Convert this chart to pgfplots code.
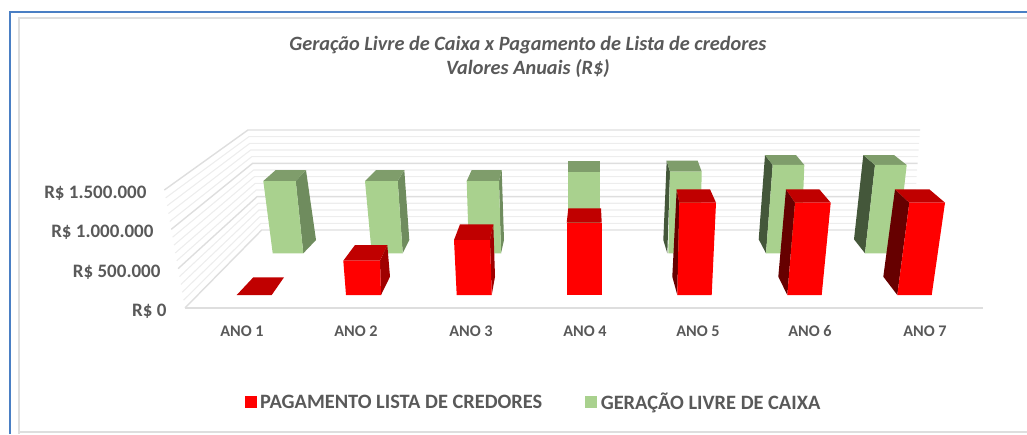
\documentclass[border=0pt]{standalone}
\usepackage{fontspec}
\setmainfont{Carlito}
\usepackage{pgfplots}
\pgfplotsset{compat=1.18}
\definecolor{tg}{HTML}{595959}
\definecolor{gf}{HTML}{A9D18E}
\definecolor{gt}{HTML}{7F9D6B}
\definecolor{gs}{HTML}{6F8C5E}
\definecolor{gd}{HTML}{44573A}
\definecolor{rt}{HTML}{C00000}
\definecolor{rs}{HTML}{A00000}
\definecolor{rd}{HTML}{660000}
\definecolor{gmaj}{HTML}{DEDEDE}
\definecolor{gmin}{HTML}{EDEDED}
\definecolor{fblue}{HTML}{4A7FC4}
\pgfplotsset{
 poly/.style={fill=#1,draw=none,forget plot},
 gmaj/.style={draw=gmaj,line width=1.4pt,forget plot},
 gmin/.style={draw=gmin,line width=1.1pt,forget plot},
}
\begin{document}
\begin{tikzpicture}
\begin{axis}[
 scale only axis,width=1027pt,height=434pt,
 xmin=0,xmax=1027,ymin=-1582250,ymax=3911322,
 no markers,
 axis line style={draw=none},tick style={draw=none},
 scaled y ticks=false,
 xtick pos=bottom,ytick pos=left,
 xtick={242,356,471,585,698,810,925},
 xticklabels={ANO 1,ANO 2,ANO 3,ANO 4,ANO 5,ANO 6,ANO 7},
 ytick={0,500000,1000000,1500000},
 yticklabels={R\$ 0,R\$ 500.000\hspace*{6pt},R\$ 1.000.000\hspace*{13pt},R\$ 1.500.000\hspace*{20pt}},
 xticklabel style={yshift=112pt,font=\bfseries\fontsize{16.2}{18}\selectfont,text=tg},
 yticklabel style={xshift=170pt,yshift=-2.5pt,font=\bfseries\fontsize{19}{21}\selectfont,text=tg},
 title={Geração Livre de Caixa x Pagamento de Lista de credores\\Valores Anuais (R\$)},
 title style={at={(0.514,0.854)},anchor=center,align=center,text=tg,
   font=\bfseries\itshape\fontsize{20.3}{24}\selectfont},
 legend columns=2,
 legend style={at={(0.5195,0.073)},anchor=center,draw=none,fill=none,text=tg,
   font=\bfseries\fontsize{20.4}{22}\selectfont,
   /tikz/every even column/.append style={column sep=41pt}},
]
% frame
\addplot[draw=fblue,line width=2pt,forget plot] coordinates {(10,-1582250)(10,3759000)(1027,3759000)};
\addplot[draw=gmaj,line width=2pt,forget plot] coordinates {(19,-1582250)(19,3683000)(1027,3683000)};
\addplot[draw=gmaj,line width=2pt,forget plot] coordinates {(19,-1557000)(1027,-1557000)};
% walls
\addplot[gmaj] coordinates {(185,13000)(261.7,1000000)(913,1000000)};
\addplot[gmin] coordinates {(183.6,112000)(260.8,1084000)(913.5,1084000)};
\addplot[gmin] coordinates {(182.2,212000)(259.9,1169000)(913.9,1169000)};
\addplot[gmin] coordinates {(180.9,311000)(259,1253000)(914.4,1253000)};
\addplot[gmin] coordinates {(179.5,411000)(258,1338000)(914.9,1338000)};
\addplot[gmaj] coordinates {(178.1,511000)(257.1,1422000)(915.3,1422000)};
\addplot[gmin] coordinates {(176.7,610000)(256.2,1506000)(915.8,1506000)};
\addplot[gmin] coordinates {(175.3,710000)(255.3,1591000)(916.3,1591000)};
\addplot[gmin] coordinates {(174,809000)(254.4,1675000)(916.7,1675000)};
\addplot[gmin] coordinates {(172.6,909000)(253.5,1759000)(917.2,1759000)};
\addplot[gmaj] coordinates {(171.2,1008000)(252.6,1844000)(917.7,1844000)};
\addplot[gmin] coordinates {(169.8,1108000)(251.7,1928000)(918.1,1928000)};
\addplot[gmin] coordinates {(168.4,1208000)(250.7,2013000)(918.6,2013000)};
\addplot[gmin] coordinates {(167.1,1307000)(249.8,2097000)(919.1,2097000)};
\addplot[gmin] coordinates {(165.7,1407000)(248.9,2181000)(919.5,2181000)};
\addplot[gmaj] coordinates {(164.3,1506000)(248,2266000)(920,2266000)};
\addplot[gmaj] coordinates {(185,13000)(983,13000)};
% green ANO 1
\addplot[poly=gs] coordinates {(295.7,1620000)(306,1759000)(316,873000)(303.3,705000)};
\addplot[poly=gt] coordinates {(263.3,1620000)(295.7,1620000)(306,1759000)(275.7,1759000)};
\addplot[poly=gf] coordinates {(263.3,1620000)(295.7,1620000)(303.3,705000)(272.7,705000)};
% green ANO 2
\addplot[poly=gs] coordinates {(397.7,1620000)(404.3,1759000)(409.3,873000)(402.7,705000)};
\addplot[poly=gt] coordinates {(365,1620000)(397.7,1620000)(404.3,1759000)(376,1759000)};
\addplot[poly=gf] coordinates {(365,1620000)(397.7,1620000)(402.7,705000)(371.7,705000)};
% green ANO 3
\addplot[poly=gs] coordinates {(499,1620000)(501.7,1759000)(504,873000)(501,705000)};
\addplot[poly=gt] coordinates {(466.7,1620000)(499,1620000)(501.7,1759000)(471.7,1759000)};
\addplot[poly=gf] coordinates {(466.7,1620000)(499,1620000)(501,705000)(469,705000)};
% green ANO 4
\addplot[poly=gt] coordinates {(568.3,1738000)(600,1738000)(600,1877000)(568.3,1877000)};
\addplot[poly=gf] coordinates {(568.3,1738000)(600,1738000)(600,705000)(568.3,705000)};
% green ANO 5
\addplot[poly=gd] coordinates {(670,1738000)(666.7,1877000)(663.3,873000)(667.3,705000)};
\addplot[poly=gt] coordinates {(670,1738000)(701.7,1738000)(697.7,1877000)(666.7,1877000)};
\addplot[poly=gf] coordinates {(670,1738000)(701.7,1738000)(700,705000)(668.3,705000)};
% green ANO 6
\addplot[poly=gd] coordinates {(772.7,1823000)(765,1949000)(758.7,882000)(766,705000)};
\addplot[poly=gt] coordinates {(772.7,1823000)(804.3,1823000)(796,1949000)(765,1949000)};
\addplot[poly=gf] coordinates {(772.7,1823000)(804.3,1823000)(801,705000)(766,705000)};
% green ANO 7
\addplot[poly=gd] coordinates {(875,1823000)(863.3,1949000)(854,882000)(865,705000)};
\addplot[poly=gt] coordinates {(875,1823000)(906.7,1823000)(894,1949000)(863.3,1949000)};
\addplot[poly=gf] coordinates {(875,1823000)(906.7,1823000)(896.7,705000)(865,705000)};
% red ANO 1
\addplot[poly=rt] coordinates {(236.7,177000)(271.7,177000)(284,401000)(253.3,401000)};
% red ANO 2
\addplot[poly=rs] coordinates {(380,611000)(387.3,810000)(390,409000)(381,177000)};
\addplot[poly=rt] coordinates {(343.3,611000)(380,611000)(387.3,810000)(355,810000)};
\addplot[poly=red] coordinates {(343.3,611000)(380,611000)(381,177000)(346,177000)};
% red ANO 3
\addplot[poly=rs] coordinates {(490,873000)(493.3,1072000)(495,409000)(491.7,177000)};
\addplot[poly=rt] coordinates {(454,873000)(490,873000)(493.3,1072000)(460,1072000)};
\addplot[poly=red] coordinates {(454,873000)(490,873000)(491.7,177000)(456.7,177000)};
% red ANO 4
\addplot[poly=rt] coordinates {(566.7,1092000)(601.7,1092000)(601,1275000)(568.3,1275000)};
\addplot[poly=red] coordinates {(566.7,1092000)(601.7,1092000)(601.7,177000)(566.7,177000)};
% red ANO 5
\addplot[poly=rd] coordinates {(679.3,1346000)(676.7,1515000)(672.3,409000)(677.3,177000)};
\addplot[poly=rt] coordinates {(679.3,1346000)(716,1346000)(710,1515000)(676.7,1515000)};
\addplot[poly=red] coordinates {(679.3,1346000)(716,1346000)(711.7,177000)(677.3,177000)};
% red ANO 6
\addplot[poly=rd] coordinates {(795,1346000)(786,1515000)(778.3,409000)(787.3,177000)};
\addplot[poly=rt] coordinates {(795,1346000)(830.7,1346000)(819.3,1515000)(786,1515000)};
\addplot[poly=red] coordinates {(795,1346000)(830.7,1346000)(821.7,177000)(787.3,177000)};
% red ANO 7
\addplot[poly=rd] coordinates {(909.3,1346000)(895,1515000)(883.3,409000)(897.3,177000)};
\addplot[poly=rt] coordinates {(909.3,1346000)(945,1346000)(929.3,1515000)(895,1515000)};
\addplot[poly=red] coordinates {(909.3,1346000)(945,1346000)(931.7,177000)(897.3,177000)};
% legend
\addlegendimage{legend image code/.code={\fill[red] (0pt,-5pt) rectangle ++(11pt,11pt);\path (13pt,0pt);}}
\addlegendentry{PAGAMENTO LISTA DE CREDORES}
\addlegendimage{legend image code/.code={\fill[gf] (0pt,-5pt) rectangle ++(11pt,11pt);\path (13pt,0pt);}}
\addlegendentry{GERAÇÃO LIVRE DE CAIXA}
\end{axis}
\pgfresetboundingbox
\path[use as bounding box] (current axis.south west) rectangle (current axis.north east);
\end{tikzpicture}
\end{document}
